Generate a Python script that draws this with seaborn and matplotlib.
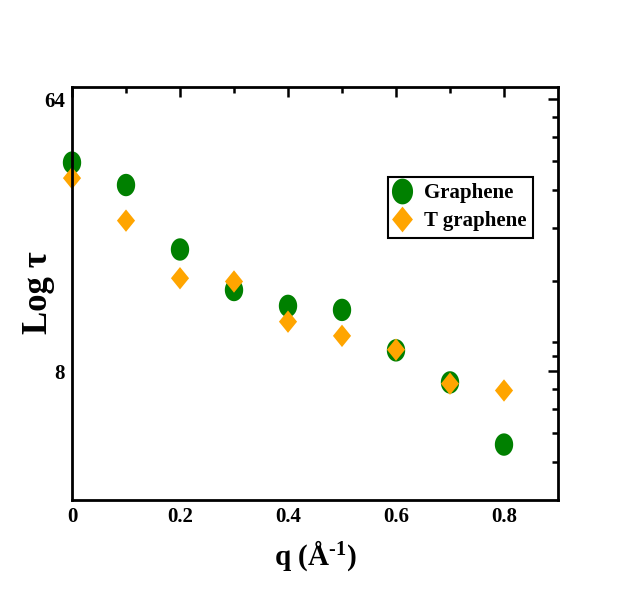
import numpy as np
import pandas as pd
import matplotlib
matplotlib.use("Agg")
import matplotlib.pyplot as plt
from matplotlib.path import Path
from matplotlib.ticker import FixedLocator, NullFormatter, FixedFormatter
import seaborn as sns

# ---- data ----
q_values = [0.0, 0.1, 0.2, 0.3, 0.4, 0.5, 0.6, 0.7, 0.8]
tau_graphene = [39.4, 33.2, 20.3, 14.9, 13.2, 12.8, 9.4, 7.36, 4.58]
tau_tgraphene = [35.0, 25.3, 16.3, 15.9, 11.7, 10.5, 9.45, 7.29, 6.92]
series_names = ["Graphene", "T graphene"]
y_major_ticks = [8, 64]
y_minor_ticks = [4, 5, 6, 7, 9, 10, 16, 24, 32, 40, 48, 56]
x_ticks = [0, 0.2, 0.4, 0.6, 0.8]
x_tick_labels = ["0", "0.2", "0.4", "0.6", "0.8"]

df = pd.DataFrame({
    "q": q_values * 2,
    "tau": tau_graphene + tau_tgraphene,
    "series": [series_names[0]] * len(q_values) + [series_names[1]] * len(q_values),
})

sns.set_style("white")
plt.rcParams["font.family"] = ["Liberation Serif", "DejaVu Serif"]
plt.rcParams["font.weight"] = "bold"
plt.rcParams["text.color"] = "black"
plt.rcParams["axes.labelcolor"] = "black"
plt.rcParams["xtick.color"] = "black"
plt.rcParams["ytick.color"] = "black"
plt.rcParams["mathtext.fontset"] = "custom"
plt.rcParams["mathtext.rm"] = "Liberation Serif:bold"
plt.rcParams["mathtext.it"] = "Liberation Serif:bold"
plt.rcParams["mathtext.bf"] = "Liberation Serif:bold"

# elliptic markers (reference is slightly stretched vertically)
t = np.linspace(0, 2 * np.pi, 64)
ellipse = Path(np.column_stack([0.82 * np.cos(t), np.sin(t)]), closed=True)
diamond = Path([(0, 1), (0.81, 0), (0, -1), (-0.81, 0), (0, 1)],
               [Path.MOVETO, Path.LINETO, Path.LINETO, Path.LINETO, Path.CLOSEPOLY])

fig = plt.figure(figsize=(6.28, 5.89), dpi=100)
ax = fig.add_axes([72 / 628, 1 - 500 / 589, 486 / 628, 412.7 / 589])

sns.scatterplot(data=df, x="q", y="tau", hue="series", style="series",
                palette={"Graphene": "#008000", "T graphene": "#FFA500"},
                markers={"Graphene": ellipse, "T graphene": diamond},
                s=260, linewidth=0, ax=ax, clip_on=False, zorder=2)

ax.set_yscale("log")
ax.set_xlim(0, 0.9)
ax.set_ylim(3, 70)
ax.yaxis.set_major_locator(FixedLocator(y_major_ticks))
ax.yaxis.set_major_formatter(FixedFormatter([str(v) for v in y_major_ticks]))
ax.yaxis.set_minor_locator(FixedLocator(y_minor_ticks))
ax.yaxis.set_minor_formatter(NullFormatter())
ax.set_xticks(x_ticks)
ax.set_xticklabels(x_tick_labels)
ax.set_xticks([0.1, 0.3, 0.5, 0.7], minor=True)

for sp in ax.spines.values():
    sp.set_linewidth(2.0)
    sp.set_color("black")
    sp.set_zorder(3)

ax.tick_params(which="both", direction="in", top=True, right=True, width=1.8, colors="black")
ax.tick_params(which="major", length=7, labelsize=15, pad=5)
ax.tick_params(which="minor", length=4)
for lab in ax.get_xticklabels() + ax.get_yticklabels():
    lab.set_fontweight("bold")
    lab.set_color("black")

ax.set_xlabel(r"q (Å$^{\text{-1}}$)", fontsize=21, fontweight="bold", labelpad=8, color="black")
ax.set_ylabel("Log τ", fontsize=25, fontweight="bold", color="black")
ax.yaxis.set_label_coords(-0.034, 0.503)

handles, labels = ax.get_legend_handles_labels()
leg = ax.legend(handles, labels, loc="upper left", bbox_to_anchor=(0.650, 0.783),
                borderaxespad=0, frameon=True, fancybox=False, framealpha=1,
                edgecolor="black", prop={"family": "Liberation Serif", "weight": "bold", "size": 15},
                handletextpad=0.65, borderpad=0.3, labelspacing=0.4, handlelength=0.8,
                markerscale=1.15)
leg.get_frame().set_linewidth(1.5)
for txt in leg.get_texts():
    txt.set_color("black")

fig.savefig("out.png", dpi=100, facecolor="white")
